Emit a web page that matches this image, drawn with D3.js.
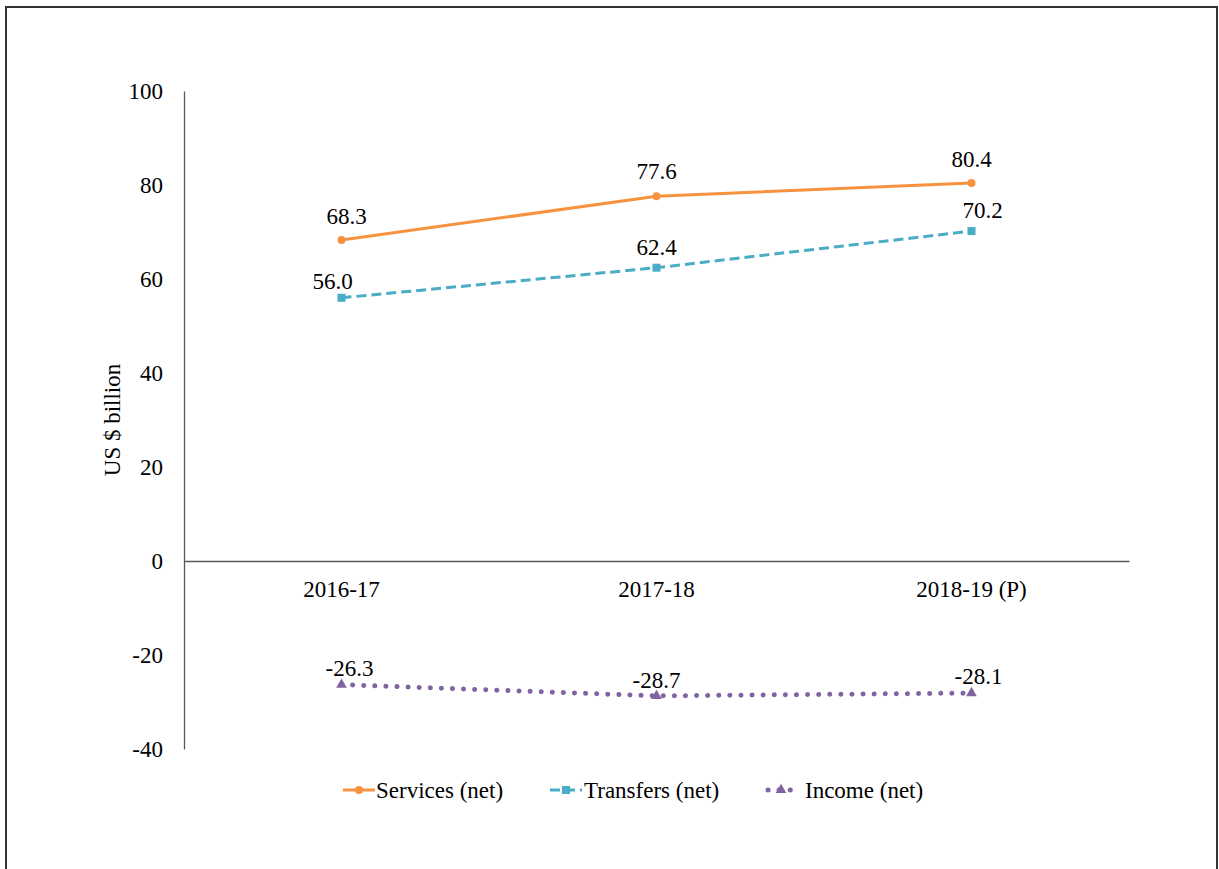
<!DOCTYPE html>
<html>
<head>
<meta charset="utf-8">
<script src="https://cdn.jsdelivr.net/npm/d3@7"></script>
<style>
  html, body { margin: 0; padding: 0; background: #fff; }
  svg { display: block; }
  text { font-family: "Liberation Serif", "Times New Roman", serif; fill: #000; }
</style>
</head>
<body>
<svg id="chart" width="1219" height="869"></svg>
<script>
// Categories and series values (US $ billion)
const years = ["2016-17", "2017-18", "2018-19 (P)"];
const services = [68.3, 77.6, 80.4];
const transfers = [56.0, 62.4, 70.2];
const income = [-26.3, -28.7, -28.1];
const yTicks = [-40, -20, 0, 20, 40, 60, 80, 100];

const FONT = "23px";
const fmt1 = v => v.toFixed(1);

const seriesList = [
  { name: "Services (net)", values: services, color: "#F7923F", dash: null, marker: "circle",
    labelDx: [5, 0, 0], labelDy: [-16, -17, -16] },
  { name: "Transfers (net)", values: transfers, color: "#4BACC6", dash: "10,5", marker: "square",
    labelDx: [-9, 0, 11], labelDy: [-9, -13, -13] },
  { name: "Income (net)", values: income, color: "#8064A2", dash: "0.1,11", marker: "triangle",
    labelDx: [8, 0, 7], labelDy: [-9, -8, -9] }
];

const svg = d3.select("#chart");

// outer frame
svg.append("rect")
  .attr("x", 6).attr("y", 7).attr("width", 1211).attr("height", 880)
  .attr("fill", "none").attr("stroke", "#333").attr("stroke-width", 2);

const x = d3.scaleBand().domain(years).range([184, 1129]);
const y = d3.scaleLinear().domain([-40, 100]).range([749, 91]);

// y axis
const yAxis = d3.axisLeft(y).tickValues(yTicks).tickSize(0).tickPadding(21)
  .tickFormat(d => String(d));
const gy = svg.append("g").attr("transform", "translate(184,0)").call(yAxis);
gy.attr("font-family", null).attr("font-size", null);
gy.select(".domain").attr("stroke", "#595959").attr("stroke-width", 1.3);
gy.selectAll("text").style("font-size", FONT);

// x axis on the zero line
const xAxis = d3.axisBottom(x).tickSize(0).tickPadding(20);
const gx = svg.append("g").attr("transform", `translate(0,${y(0)})`).call(xAxis);
gx.attr("font-family", null).attr("font-size", null);
gx.select(".domain").attr("stroke", "#595959").attr("stroke-width", 1.3);
gx.selectAll("text").style("font-size", FONT);

// axis title
svg.append("text")
  .attr("transform", `translate(120,${y(30)}) rotate(-90)`)
  .attr("text-anchor", "middle")
  .style("font-size", FONT)
  .text("US $ billion");

const cx = d => x(d) + x.bandwidth() / 2;

function drawMarker(g, type, px, py, color) {
  if (type === "circle") {
    g.append("circle").attr("cx", px).attr("cy", py).attr("r", 4).attr("fill", color);
  } else if (type === "square") {
    g.append("rect").attr("x", px - 4).attr("y", py - 4)
      .attr("width", 8).attr("height", 8).attr("fill", color);
  } else {
    g.append("path")
      .attr("d", d3.symbol().type(d3.symbolTriangle).size(50)())
      .attr("transform", `translate(${px},${py})`).attr("fill", color);
  }
}

const line = d3.line().x((d, i) => cx(years[i])).y(d => y(d));

seriesList.forEach(s => {
  const g = svg.append("g");
  const dotted = s.marker === "triangle";
  g.append("path")
    .datum(s.values)
    .attr("d", line)
    .attr("fill", "none")
    .attr("stroke", s.color)
    .attr("stroke-width", dotted ? 5 : 3)
    .attr("stroke-linecap", dotted ? "round" : "butt")
    .attr("stroke-dasharray", s.dash);
  s.values.forEach((v, i) => {
    drawMarker(g, s.marker, cx(years[i]), y(v), s.color);
    g.append("text")
      .attr("x", cx(years[i]) + s.labelDx[i])
      .attr("y", y(v) + s.labelDy[i])
      .attr("text-anchor", "middle")
      .style("font-size", FONT)
      .text(fmt1(v));
  });
});

// legend
const legendItems = [
  { x0: 343, tx: 376 },
  { x0: 550, tx: 584 },
  { x0: 765, tx: 805 }
];
const ly = 790;
seriesList.forEach((s, i) => {
  const it = legendItems[i];
  const g = svg.append("g");
  const dotted = s.marker === "triangle";
  g.append("line")
    .attr("x1", dotted ? it.x0 + 3 : it.x0).attr("x2", it.x0 + 32)
    .attr("y1", ly).attr("y2", ly)
    .attr("stroke", s.color)
    .attr("stroke-width", dotted ? 5 : 3)
    .attr("stroke-linecap", dotted ? "round" : "butt")
    .attr("stroke-dasharray", s.dash);
  drawMarker(g, s.marker, it.x0 + 16, ly, s.color);
  g.append("text")
    .attr("x", it.tx).attr("y", ly + 8)
    .style("font-size", FONT)
    .text(s.name);
});
</script>
</body>
</html>
